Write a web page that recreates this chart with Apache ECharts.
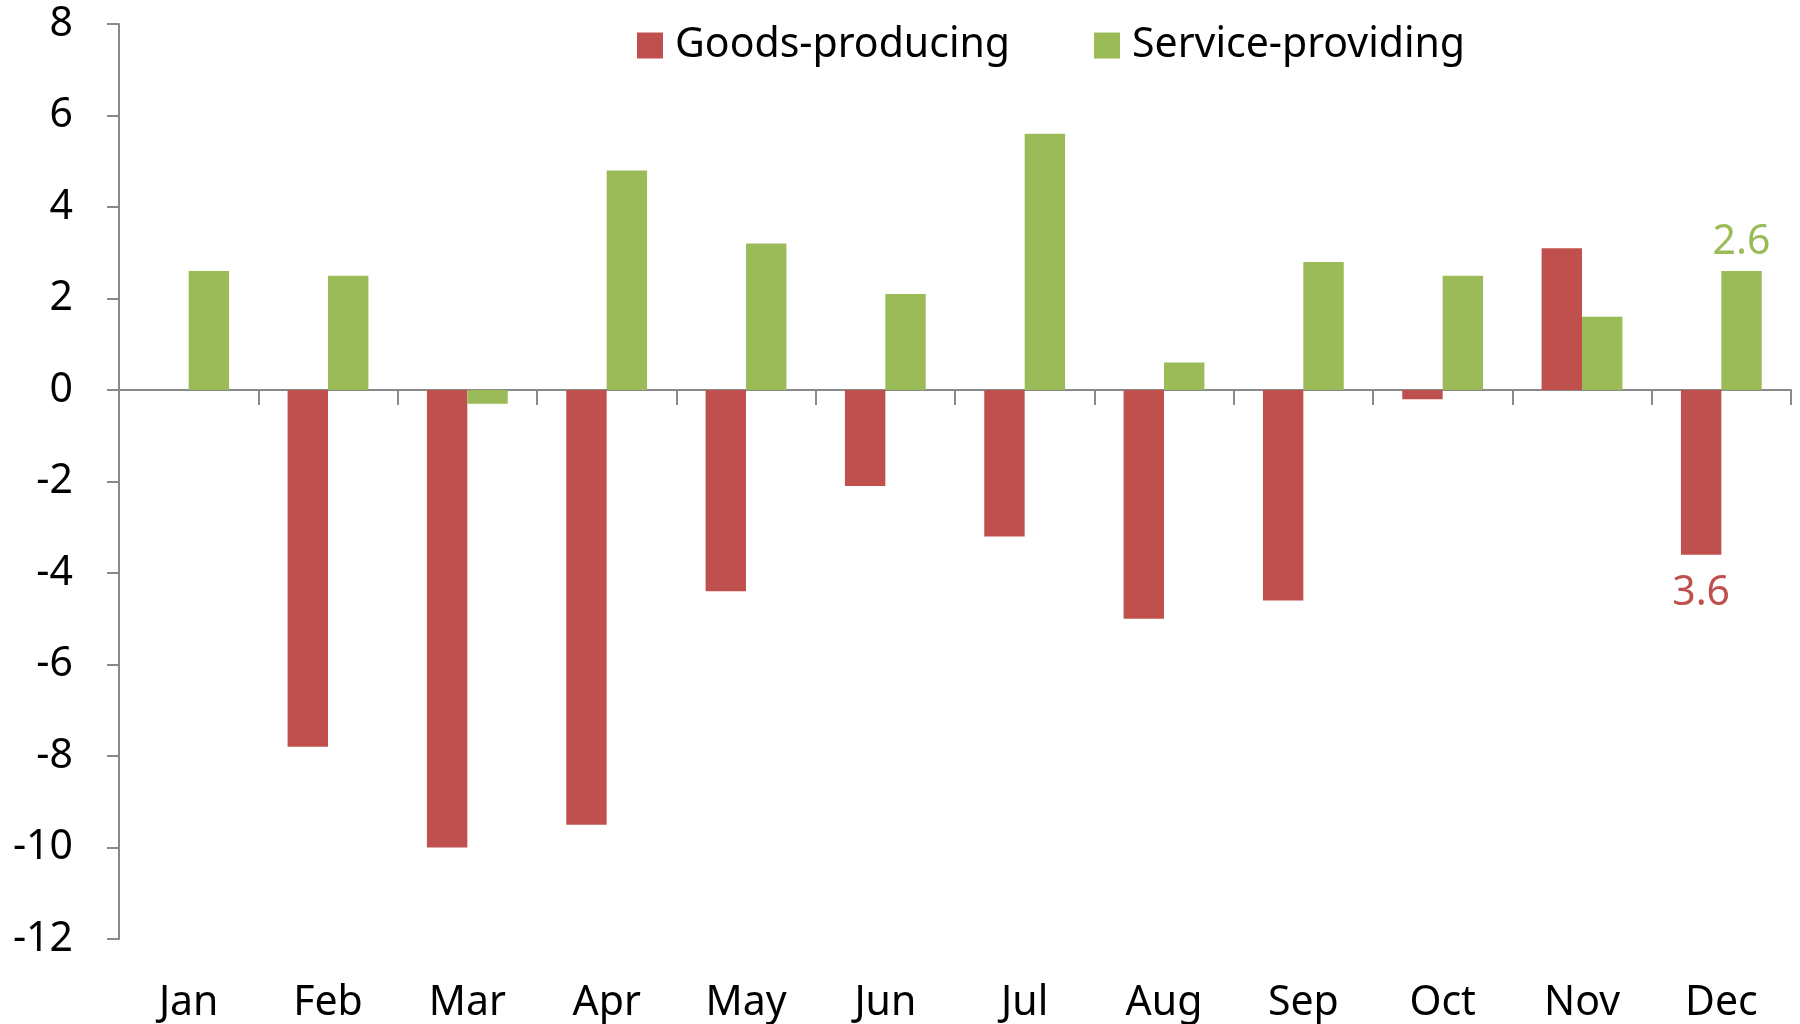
<!DOCTYPE html>
<html>
<head>
<meta charset="utf-8">
<script src="https://cdn.jsdelivr.net/npm/echarts@6/dist/echarts.min.js"></script>
<style>
  html, body { margin: 0; padding: 0; background: #fff; }
  #chart { width: 1800px; height: 1024px; }
</style>
</head>
<body>
<div id="chart"></div>
<script>
const months = ['Jan', 'Feb', 'Mar', 'Apr', 'May', 'Jun', 'Jul', 'Aug', 'Sep', 'Oct', 'Nov', 'Dec']
const goods = [0, -7.8, -10.0, -9.5, -4.4, -2.1, -3.2, -5.0, -4.6, -0.2, 3.1, -3.6]
const services = [2.6, 2.5, -0.3, 4.8, 3.2, 2.1, 5.6, 0.6, 2.8, 2.5, 1.6, 2.6]
const yTicks = [-12, -10, -8, -6, -4, -2, 0, 2, 4, 6, 8]

const RED = '#C0504D'
const GREEN = '#9BBB59'
const AXIS = '#898989'
const FONT = 'Noto Sans'
const FS = 41
const lastIdx = months.length - 1

const chart = echarts.init(document.getElementById('chart'))

const option = {
  animation: false,
  textStyle: { fontFamily: FONT },
  grid: { left: 119, right: 9, top: 24, bottom: 85 },
  legend: {
    top: 20,
    left: 632,
    itemWidth: 26,
    itemHeight: 26,
    itemGap: 84,
    icon: 'rect',
    textStyle: { fontSize: FS, color: '#000', fontFamily: FONT, padding: [0, 0, 0, 7] },
    data: ['Goods-producing', 'Service-providing']
  },
  xAxis: [
    {
      // zero line with boundary ticks
      type: 'category',
      data: months,
      axisLine: { onZero: true, lineStyle: { color: AXIS, width: 2 } },
      axisTick: { show: true, length: 15, lineStyle: { color: AXIS, width: 2 } },
      axisLabel: { show: false }
    },
    {
      // month labels along the bottom
      type: 'category',
      data: months,
      position: 'bottom',
      axisLine: { show: false, onZero: false },
      axisTick: { show: false },
      axisLabel: { show: true, margin: 44, fontSize: FS, color: '#000', fontFamily: FONT }
    }
  ],
  yAxis: {
    type: 'value',
    min: yTicks[0],
    max: yTicks[yTicks.length - 1],
    interval: 2,
    splitLine: { show: false },
    axisLine: { show: true, lineStyle: { color: AXIS, width: 2 } },
    axisTick: { show: true, inside: false, length: 12, lineStyle: { color: AXIS, width: 2 } },
    axisLabel: { margin: 46, fontSize: FS, color: '#000', fontFamily: FONT }
  },
  series: [
    {
      name: 'Goods-producing',
      type: 'bar',
      xAxisIndex: 0,
      barGap: '0%',
      barCategoryGap: '42%',
      itemStyle: { color: RED },
      label: {
        show: true,
        position: 'bottom',
        distance: 18,
        fontSize: FS,
        color: RED,
        fontFamily: FONT,
        formatter: (p) => (p.dataIndex === lastIdx ? String(Math.abs(p.value)) : '')
      },
      data: goods
    },
    {
      name: 'Service-providing',
      type: 'bar',
      xAxisIndex: 0,
      itemStyle: { color: GREEN },
      label: {
        show: true,
        position: 'top',
        distance: 8,
        fontSize: FS,
        color: GREEN,
        fontFamily: FONT,
        formatter: (p) => (p.dataIndex === lastIdx ? String(p.value) : '')
      },
      data: services
    }
  ]
}

chart.setOption(option)
</script>
</body>
</html>
